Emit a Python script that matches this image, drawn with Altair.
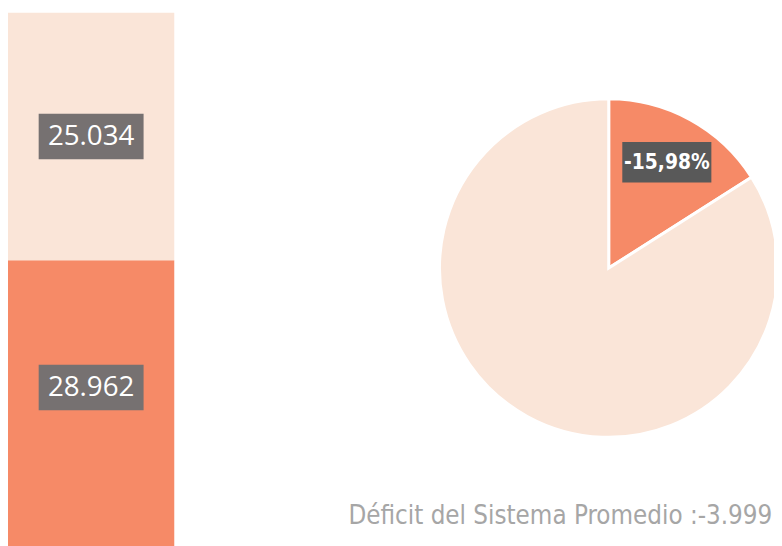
import altair as alt
import pandas as pd

# ---- data ----
bar_segments = ["Gasto", "Ingreso"]
bar_values = [28962, 25034]

pie_slices = ["Déficit", "Resto"]
pie_shares = [15.98, 84.02]

deficit_promedio = [-3999]

# ---- styles ----
SALMON = "#F68A67"
LIGHT = "#FAE5D8"
BOX_BAR = "#767171"
BOX_PIE = "#595959"
W, H = 774, 538
PIE_CX, PIE_CY, PIE_R = 607, 260, 171
LABEL_R = 122
COND = "'DejaVu Sans Condensed', 'Liberation Sans Narrow', 'Roboto Condensed', Roboto, sans-serif"

color_scale = alt.Scale(domain=bar_segments + pie_slices,
                        range=[SALMON, LIGHT, SALMON, LIGHT])

bar_df = pd.DataFrame({"segment": bar_segments, "value": bar_values})
pie_df = pd.DataFrame({"slice": pie_slices, "share": pie_shares})
foot_df = pd.DataFrame({"deficit": deficit_promedio})

total = sum(bar_values)
# the bar runs a little past the bottom edge of the picture
px_per_unit = 250 / bar_values[1]
y_lo = (2 + total * px_per_unit - H) / px_per_unit
y_hi = total + 2 / px_per_unit
y_scale = alt.Scale(domain=[y_lo, y_hi], nice=False, zero=False)
lift = 16 / px_per_unit  # bottom label sits above its segment centre

bar_base = alt.Chart(bar_df).transform_stack(
    stack="value", as_=["y0", "y1"], groupby=[], sort=[alt.SortField("segment")]
).transform_calculate(
    mid=f"(datum.y0 + datum.y1) / 2 + (datum.segment == 'Gasto' ? {lift} : 0)",
    label="replace(format(datum.value, ','), ',', '.')",
)

bar = bar_base.mark_rect(strokeWidth=0).encode(
    x=alt.value(0), x2=alt.value(168),
    y=alt.Y("y0:Q", scale=y_scale, axis=None),
    y2="y1:Q",
    color=alt.Color("segment:N", scale=color_scale, legend=None),
)

bar_lab_base = bar_base.encode(
    x=alt.value(84),
    y=alt.Y("mid:Q", scale=y_scale, axis=None),
)

bar_box = bar_lab_base.mark_point(
    shape="M-1,-0.434L1,-0.434L1,0.434L-1,0.434Z", size=106 * 106,
    filled=True, color=BOX_BAR, opacity=1, strokeWidth=0,
)
bar_text = bar_lab_base.mark_text(
    font="Open Sans", fontSize=28, color="white", align="center", baseline="middle", dy=1,
).encode(text="label:N")

pie = alt.Chart(pie_df).mark_arc(
    outerRadius=PIE_R, stroke="white", strokeWidth=3,
).encode(
    theta=alt.Theta("share:Q", stack=True),
    color=alt.Color("slice:N", scale=color_scale, legend=None),
    order=alt.Order("slice:N", sort="ascending"),
    x=alt.value(PIE_CX), y=alt.value(PIE_CY),
)

pie_lab_base = alt.Chart(pie_df).transform_stack(
    stack="share", as_=["s0", "s1"], groupby=[], sort=[alt.SortField("slice")]
).transform_joinaggregate(tot="sum(share)").transform_calculate(
    ang="(datum.s0 + datum.s1) / 2 / datum.tot * 2 * PI",
    px=f"{PIE_CX} + {LABEL_R} * sin(datum.ang)",
    py=f"{PIE_CY} - {LABEL_R} * cos(datum.ang)",
    label="'-' + replace(format(datum.share, '.2f'), '.', ',') + '%'",
).transform_filter(alt.datum.slice == "Déficit").encode(
    x=alt.X("px:Q", scale=None, axis=None),
    y=alt.Y("py:Q", scale=None, axis=None),
)

pie_box = pie_lab_base.mark_point(
    shape="M-1,-0.456L1,-0.456L1,0.456L-1,0.456Z", size=90 * 90,
    filled=True, color=BOX_PIE, opacity=1, strokeWidth=0,
)
pie_text = pie_lab_base.mark_text(
    font=COND, fontWeight="bold", fontSize=21, color="white",
    align="center", baseline="middle", dy=1,
).encode(text="label:N")

footer = alt.Chart(foot_df).transform_calculate(
    label="'Déficit del Sistema Promedio :-' + replace(format(abs(datum.deficit), ','), ',', '.')"
).mark_text(
    font=COND, fontSize=26, color="#A6A6A6",
    align="left", baseline="alphabetic",
).encode(x=alt.value(344), y=alt.value(519), text="label:N")

chart = alt.layer(bar, bar_box, bar_text, pie, pie_box, pie_text, footer).resolve_scale(
    x="independent", y="independent"
).properties(
    width=W, height=H, padding=0,
    autosize=alt.AutoSizeParams(type="none"),
).configure_view(stroke=None)

chart.save("out.html", embed_options={"renderer": "svg", "actions": False})
